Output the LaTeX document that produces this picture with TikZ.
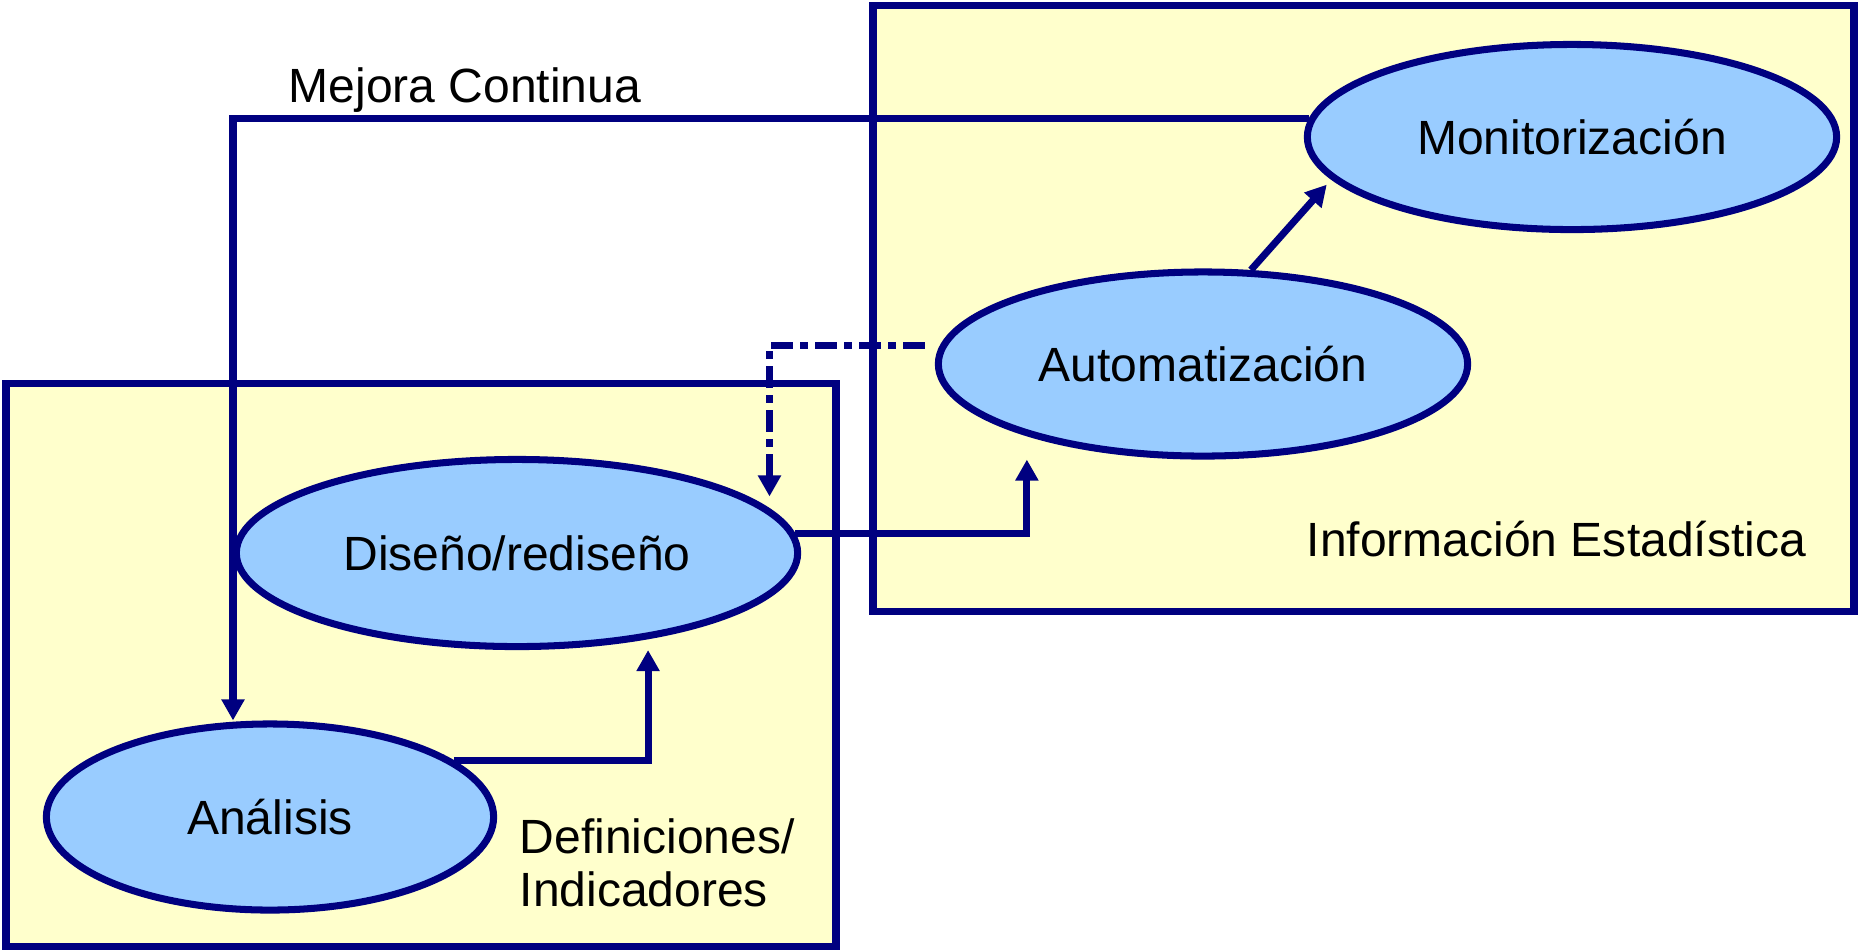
\documentclass[tikz,border=0pt]{standalone}
\usepackage{fontspec}
\setmainfont{Liberation Sans}
\usepackage{tikz}
\usetikzlibrary{shapes.geometric,arrows.meta}
\definecolor{navy}{RGB}{0,0,128}
\definecolor{boxfill}{RGB}{255,255,204}
\definecolor{procfill}{RGB}{153,204,255}

\begin{document}
\begin{tikzpicture}[x=0.01cm,y=-0.01cm,
    area/.style={draw=navy,fill=boxfill,line width=2pt},
    proc/.style={ellipse,draw=navy,fill=procfill,line width=2pt,inner sep=0pt},
    conn/.style={navy,line width=2pt,-{Triangle[width=0.22cm,length=0.21cm]}},
    lbl/.style={font=\fontsize{13.66pt}{14.8pt}\selectfont}]
  \useasboundingbox (0,0) rectangle (1859,950);
  % areas
  \draw [area] (6,383) rectangle (836,946);
  \draw [area] (873,5) rectangle (1854,611);
  % processes
  \node [proc,lbl,minimum width=5.29cm,minimum height=1.85cm] (mon) at (1572,137) {Monitorización};
  \node [proc,lbl,minimum width=5.29cm,minimum height=1.84cm] (aut) at (1203,364) {Automatización};
  \node [proc,lbl,minimum width=5.61cm,minimum height=1.87cm] (dis) at (517,553) {Diseño/rediseño};
  \node [proc,lbl,minimum width=4.47cm,minimum height=1.86cm] (ana) at (270,817) {Análisis};
  % labels
  \node [lbl,anchor=base west,inner sep=0pt] (mejora) at (288,102) {Mejora Continua};
  \node [lbl,anchor=base west,inner sep=0pt] (info) at (1306,556) {Información Estadística};
  \node [lbl,anchor=base west,inner sep=0pt,align=left] (defs) at (519,906) {Definiciones/\\Indicadores};
  % connectors
  \coordinate (mc) at (233,119);
  \draw [conn] (mon.176) -| (ana.north -| mc);
  \draw [conn] (ana.17) -| ([xshift=1.31cm]dis.south);
  \draw [conn] (dis.4) -| ([xshift=-1.76cm]aut.south);
  \draw [conn,shorten >=0.07cm] (aut.63) -- (mon.190);
  \draw [conn,shorten <=0.15cm,shorten >=0.12cm,dash pattern=on 0.22cm off 0.07cm on 0.08cm off 0.07cm] (aut.176) -| (dis.10.5);
\end{tikzpicture}
\end{document}
